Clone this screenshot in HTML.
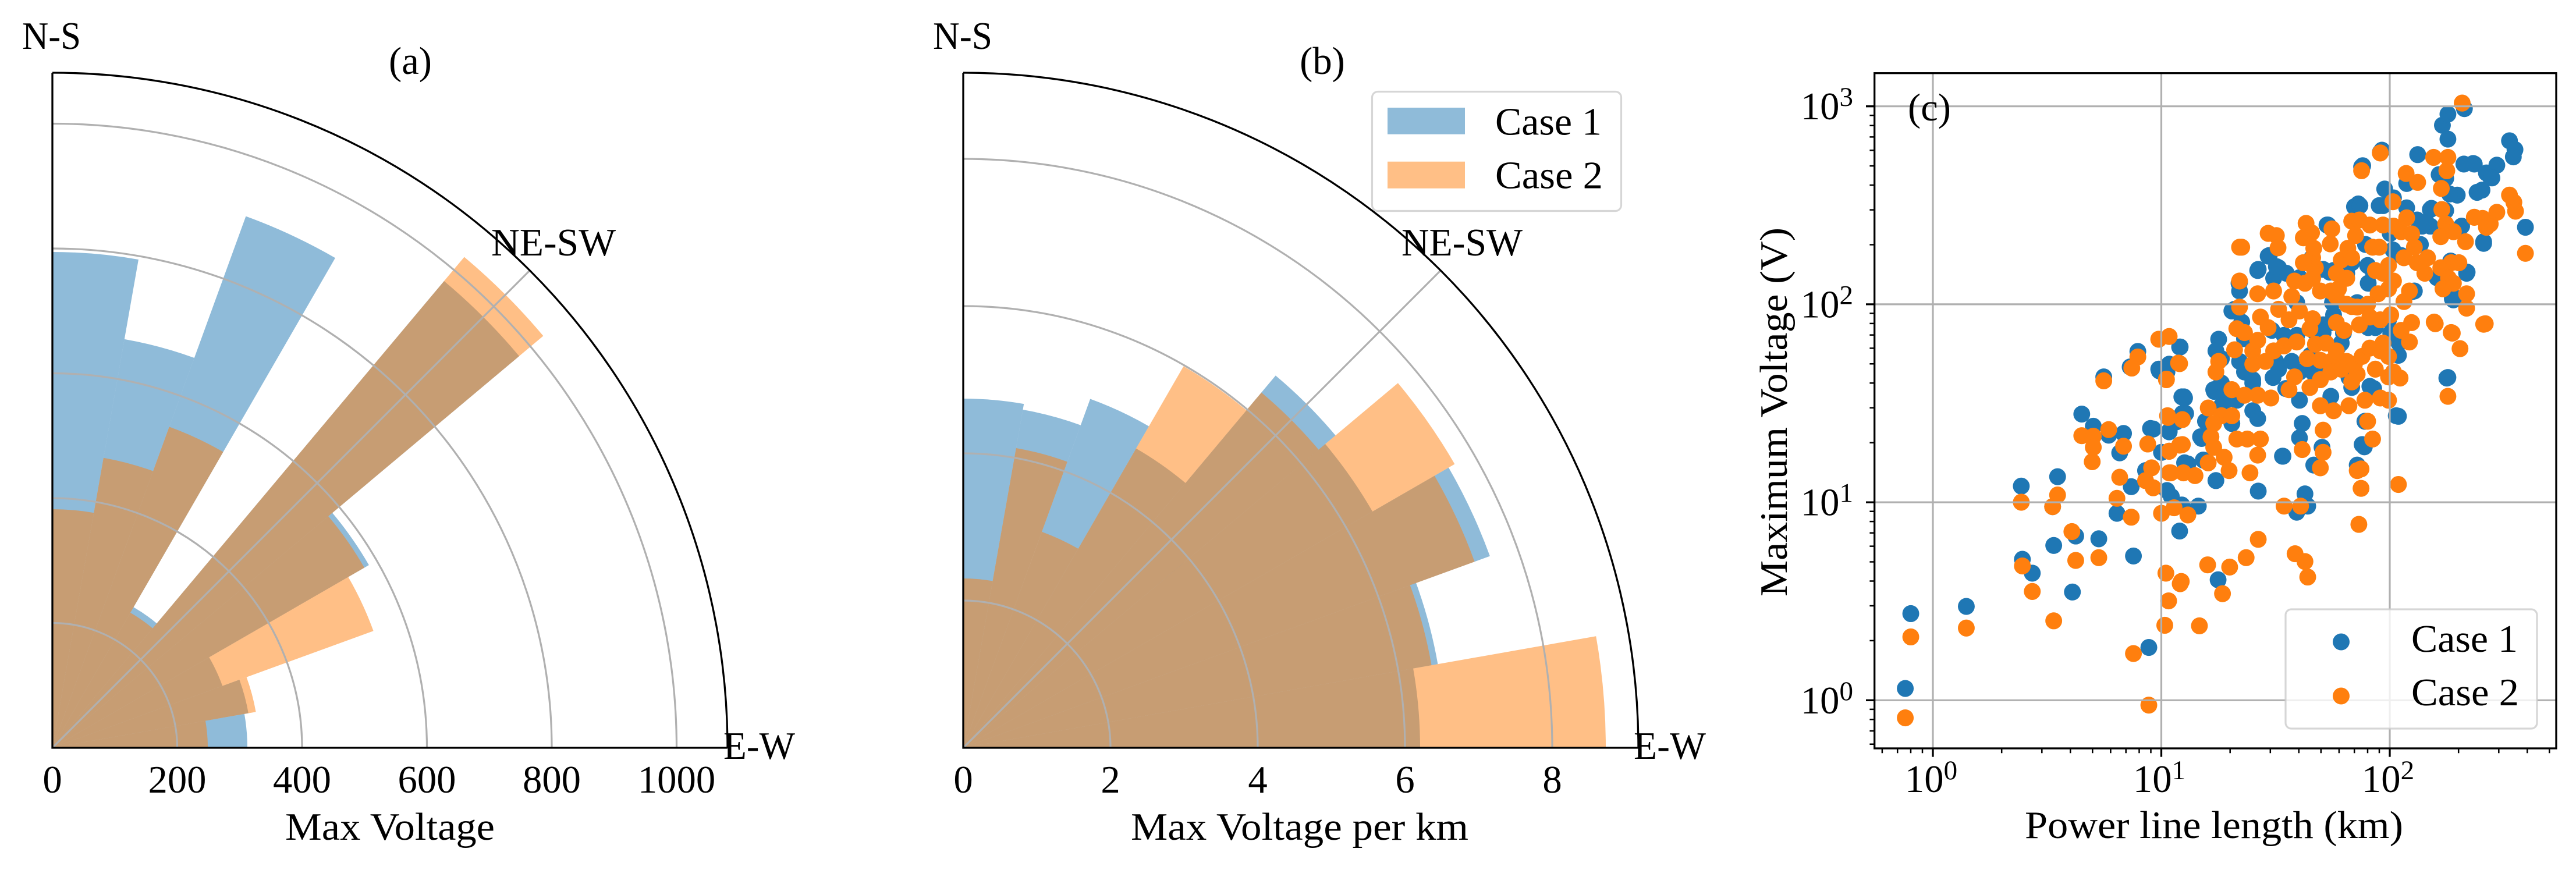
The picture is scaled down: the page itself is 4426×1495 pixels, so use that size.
<!DOCTYPE html>
<html><head><meta charset="utf-8"><style>
html,body{margin:0;padding:0;background:#fff;width:4426px;height:1495px;overflow:hidden;}
svg{display:block;position:absolute;left:0;top:0;}
svg text{font-family:"Liberation Serif","DejaVu Serif",serif !important;font-size:66.7px;fill:#000;}
</style></head><body>
<svg width="4426" height="1495" viewBox="0 0 4426 1495" xmlns="http://www.w3.org/2000/svg" font-family="Liberation Serif, DejaVu Serif, serif" font-size="66.7" overflow="hidden">
<rect width="4426" height="1495" fill="#fff"/>

<!-- ===== Panel (a) ===== -->
<g transform="translate(90,1285)">
 <g fill="#1f77b4" fill-opacity="0.5">
  <path d="M0,0 L147.95,-839.06 A852,852 0 0 0 0,-852 Z"/>
  <path d="M0,0 L243.86,-670 A713,713 0 0 0 123.81,-702.17 Z"/>
  <path d="M0,0 L486,-841.78 A972,972 0 0 0 332.44,-913.38 Z"/>
  <path d="M0,0 L179.34,-213.73 A279,279 0 0 0 139.5,-241.62 Z"/>
  <path d="M0,0 L802.04,-673 A1047,1047 0 0 0 673,-802.04 Z"/>
  <path d="M0,0 L543.87,-314 A628,628 0 0 0 481.07,-403.67 Z"/>
  <path d="M0,0 L292.24,-106.37 A311,311 0 0 0 269.34,-155.5 Z"/>
  <path d="M0,0 L336.81,-59.39 A342,342 0 0 0 321.37,-116.97 Z"/>
  <path d="M0,0 L335,0 A335,335 0 0 0 329.91,-58.17 Z"/>
 </g>
 <g fill="#ff7f0e" fill-opacity="0.5">
  <path d="M0,0 L71.2,-403.77 A410,410 0 0 0 0,-410 Z"/>
  <path d="M0,0 L173.06,-475.48 A506,506 0 0 0 87.87,-498.31 Z"/>
  <path d="M0,0 L293.5,-508.36 A587,587 0 0 0 200.77,-551.6 Z"/>
  <path d="M0,0 L172.27,-205.3 A268,268 0 0 0 134,-232.1 Z"/>
  <path d="M0,0 L843.41,-707.71 A1101,1101 0 0 0 707.71,-843.41 Z"/>
  <path d="M0,0 L536.07,-309.5 A619,619 0 0 0 474.18,-397.89 Z"/>
  <path d="M0,0 L551.6,-200.77 A587,587 0 0 0 508.36,-293.5 Z"/>
  <path d="M0,0 L349.61,-61.65 A355,355 0 0 0 333.59,-121.42 Z"/>
  <path d="M0,0 L267,0 A267,267 0 0 0 262.94,-46.36 Z"/>
 </g>
 <g fill="none" stroke="#b0b0b0" stroke-width="3.2">
  <path d="M214.5,0 A214.5,214.5 0 0 0 0,-214.5"/>
  <path d="M429,0 A429,429 0 0 0 0,-429"/>
  <path d="M643.5,0 A643.5,643.5 0 0 0 0,-643.5"/>
  <path d="M858,0 A858,858 0 0 0 0,-858"/>
  <path d="M1072.5,0 A1072.5,1072.5 0 0 0 0,-1072.5"/>
  <path d="M0,0 L820.2,-820.2"/>
 </g>
 <g fill="none" stroke="#000" stroke-width="3.3">
  <path d="M0,-1160 L0,0 L1160,0"/>
  <path d="M1160,0 A1160,1160 0 0 0 0,-1160"/>
 </g>
</g>
<text x="38" y="84" textLength="101" lengthAdjust="spacingAndGlyphs">N-S</text>
<text x="844" y="439" textLength="214" lengthAdjust="spacingAndGlyphs">NE-SW</text>
<text x="1243" y="1304" textLength="123" lengthAdjust="spacingAndGlyphs">E-W</text>
<text x="705" y="127" text-anchor="middle">(a)</text>
<g text-anchor="middle">
 <text x="90" y="1362">0</text>
 <text x="304.5" y="1362">200</text>
 <text x="519" y="1362">400</text>
 <text x="733.5" y="1362">600</text>
 <text x="948" y="1362">800</text>
 <text x="1162.5" y="1362">1000</text>
</g>
<text x="490" y="1443" textLength="360" lengthAdjust="spacingAndGlyphs">Max Voltage</text>

<!-- ===== Panel (b) ===== -->
<g transform="translate(1655,1285)">
 <g fill="#1f77b4" fill-opacity="0.5">
  <path d="M0,0 L104.19,-590.89 A600,600 0 0 0 0,-600 Z"/>
  <path d="M0,0 L201.79,-554.42 A590,590 0 0 0 102.45,-581.04 Z"/>
  <path d="M0,0 L319,-552.53 A638,638 0 0 0 218.21,-599.52 Z"/>
  <path d="M0,0 L381.82,-455.03 A594,594 0 0 0 297,-514.42 Z"/>
  <path d="M0,0 L639.64,-536.73 A835,835 0 0 0 536.73,-639.64 Z"/>
  <path d="M0,0 L703.22,-406 A812,812 0 0 0 622.02,-521.95 Z"/>
  <path d="M0,0 L904.92,-329.37 A963,963 0 0 0 833.99,-481.5 Z"/>
  <path d="M0,0 L815.42,-143.78 A828,828 0 0 0 778.06,-283.19 Z"/>
  <path d="M0,0 L785,0 A785,785 0 0 0 773.08,-136.32 Z"/>
 </g>
 <g fill="#ff7f0e" fill-opacity="0.5">
  <path d="M0,0 L50.53,-286.58 A291,291 0 0 0 0,-291 Z"/>
  <path d="M0,0 L178.88,-491.46 A523,523 0 0 0 90.82,-515.06 Z"/>
  <path d="M0,0 L197.5,-342.08 A395,395 0 0 0 135.1,-371.18 Z"/>
  <path d="M0,0 L486.59,-579.89 A757,757 0 0 0 378.5,-655.58 Z"/>
  <path d="M0,0 L610.53,-512.3 A797,797 0 0 0 512.3,-610.53 Z"/>
  <path d="M0,0 L844.38,-487.5 A975,975 0 0 0 746.89,-626.72 Z"/>
  <path d="M0,0 L878.61,-319.79 A935,935 0 0 0 809.74,-467.5 Z"/>
  <path d="M0,0 L804.59,-141.87 A817,817 0 0 0 767.73,-279.43 Z"/>
  <path d="M0,0 L1104,0 A1104,1104 0 0 0 1087.23,-191.71 Z"/>
 </g>
 <g fill="none" stroke="#b0b0b0" stroke-width="3.2">
  <path d="M253,0 A253,253 0 0 0 0,-253"/>
  <path d="M506,0 A506,506 0 0 0 0,-506"/>
  <path d="M759,0 A759,759 0 0 0 0,-759"/>
  <path d="M1012,0 A1012,1012 0 0 0 0,-1012"/>
  <path d="M0,0 L820.2,-820.2"/>
 </g>
 <g fill="none" stroke="#000" stroke-width="3.3">
  <path d="M0,-1160 L0,0 L1160,0"/>
  <path d="M1160,0 A1160,1160 0 0 0 0,-1160"/>
 </g>
</g>
<text x="1603" y="84" textLength="102" lengthAdjust="spacingAndGlyphs">N-S</text>
<text x="2408" y="439" textLength="208" lengthAdjust="spacingAndGlyphs">NE-SW</text>
<text x="2807" y="1304" textLength="124" lengthAdjust="spacingAndGlyphs">E-W</text>
<text x="2272" y="127" text-anchor="middle">(b)</text>
<g text-anchor="middle">
 <text x="1655" y="1362">0</text>
 <text x="1908" y="1362">2</text>
 <text x="2161" y="1362">4</text>
 <text x="2414" y="1362">6</text>
 <text x="2667" y="1362">8</text>
</g>
<text x="1943" y="1443" textLength="580" lengthAdjust="spacingAndGlyphs">Max Voltage per km</text>
<!-- legend b -->
<rect x="2357.5" y="157.5" width="428" height="205" rx="10" ry="10" fill="#fff" fill-opacity="0.8" stroke="#cccccc" stroke-opacity="0.8" stroke-width="3.2"/>
<rect x="2384" y="185" width="133" height="45.7" fill="#1f77b4" fill-opacity="0.5"/>
<rect x="2384" y="277.7" width="133" height="46" fill="#ff7f0e" fill-opacity="0.5"/>
<text x="2569" y="231.7" textLength="183" lengthAdjust="spacingAndGlyphs">Case 1</text>
<text x="2569" y="323.3" textLength="185" lengthAdjust="spacingAndGlyphs">Case 2</text>

<!-- ===== Panel (c) ===== -->
<g transform="translate(2949.6,0.9) scale(0.9446,0.9526)">
<g fill="#1f77b4">
<circle cx="353" cy="1106" r="15.3"/><circle cx="343" cy="1241" r="15.3"/><circle cx="454" cy="1093" r="15.3"/><circle cx="554" cy="876" r="15.3"/><circle cx="556" cy="1008" r="15.3"/><circle cx="574" cy="1033" r="15.3"/><circle cx="620" cy="859" r="15.3"/><circle cx="611" cy="913" r="15.3"/><circle cx="613" cy="983" r="15.3"/><circle cx="653" cy="966" r="15.3"/><circle cx="647" cy="1067" r="15.3"/><circle cx="695" cy="971" r="15.3"/><circle cx="758" cy="1002" r="15.3"/><circle cx="786" cy="1167" r="15.3"/><circle cx="664" cy="746" r="15.3"/><circle cx="685" cy="768" r="15.3"/><circle cx="713" cy="784" r="15.3"/><circle cx="740" cy="781" r="15.3"/><circle cx="733" cy="816" r="15.3"/><circle cx="754" cy="877" r="15.3"/><circle cx="728" cy="925" r="15.3"/><circle cx="704" cy="679" r="15.3"/><circle cx="766" cy="633" r="15.3"/><circle cx="752" cy="661" r="15.3"/><circle cx="789" cy="772" r="15.3"/><circle cx="780" cy="848" r="15.3"/><circle cx="842" cy="957" r="15.3"/><circle cx="819" cy="670" r="15.3"/><circle cx="805" cy="668" r="15.3"/><circle cx="823" cy="777" r="15.3"/><circle cx="846" cy="715" r="15.3"/><circle cx="819" cy="884" r="15.3"/>
<circle cx="827" cy="895" r="15.3"/><circle cx="836" cy="760" r="15.3"/><circle cx="843" cy="625" r="15.3"/><circle cx="846" cy="910" r="15.3"/><circle cx="850" cy="715" r="15.3"/><circle cx="853" cy="745" r="15.3"/><circle cx="857" cy="836" r="15.3"/><circle cx="876" cy="912" r="15.3"/><circle cx="882" cy="790" r="15.3"/><circle cx="895" cy="770" r="15.3"/><circle cx="900" cy="765" r="15.3"/><circle cx="905" cy="705" r="15.3"/><circle cx="912" cy="1045" r="15.3"/><circle cx="918" cy="690" r="15.3"/><circle cx="928" cy="720" r="15.3"/><circle cx="985" cy="885" r="15.3"/><circle cx="1030" cy="822" r="15.3"/><circle cx="1055" cy="923" r="15.3"/><circle cx="1075" cy="912" r="15.3"/><circle cx="1070" cy="890" r="15.3"/><circle cx="1168" cy="845" r="15.3"/><circle cx="1240" cy="750" r="15.3"/><circle cx="1330" cy="680" r="15.3"/><circle cx="1178" cy="805" r="15.3"/>
<circle cx="1112" cy="405" r="15.3"/><circle cx="1167" cy="367" r="15.3"/><circle cx="1160" cy="372" r="15.3"/><circle cx="1207" cy="274" r="15.3"/><circle cx="1173" cy="300" r="15.3"/><circle cx="1212" cy="370" r="15.3"/><circle cx="1231" cy="356" r="15.3"/><circle cx="1255" cy="374" r="15.3"/><circle cx="1298" cy="377" r="15.3"/><circle cx="1283" cy="407" r="15.3"/><circle cx="1274" cy="396" r="15.3"/><circle cx="1347" cy="351" r="15.3"/><circle cx="1333" cy="349" r="15.3"/><circle cx="1326" cy="321" r="15.3"/><circle cx="1314" cy="314" r="15.3"/><circle cx="1383" cy="346" r="15.3"/><circle cx="1392" cy="342" r="15.3"/><circle cx="1407" cy="318" r="15.3"/><circle cx="1400" cy="311" r="15.3"/><circle cx="1378" cy="295" r="15.3"/><circle cx="1359" cy="295" r="15.3"/><circle cx="1419" cy="297" r="15.3"/><circle cx="1395" cy="438" r="15.3"/><circle cx="1364" cy="492" r="15.3"/><circle cx="1326" cy="379" r="15.3"/><circle cx="1355" cy="407" r="15.3"/><circle cx="1298" cy="407" r="15.3"/>
<circle cx="1003" cy="461" r="15.3"/><circle cx="984" cy="487" r="15.3"/><circle cx="1022" cy="482" r="15.3"/><circle cx="951" cy="508" r="15.3"/><circle cx="951" cy="524" r="15.3"/><circle cx="1036" cy="492" r="15.3"/><circle cx="1013" cy="501" r="15.3"/><circle cx="1103" cy="485" r="15.3"/><circle cx="1122" cy="487" r="15.3"/><circle cx="1146" cy="492" r="15.3"/><circle cx="1155" cy="473" r="15.3"/><circle cx="1184" cy="478" r="15.3"/><circle cx="1193" cy="487" r="15.3"/><circle cx="1269" cy="524" r="15.3"/><circle cx="1338" cy="538" r="15.3"/><circle cx="1340" cy="534" r="15.3"/><circle cx="942" cy="557" r="15.3"/><circle cx="937" cy="560" r="15.3"/><circle cx="1055" cy="604" r="15.3"/><circle cx="1032" cy="604" r="15.3"/><circle cx="1017" cy="651" r="15.3"/><circle cx="1022" cy="665" r="15.3"/><circle cx="960" cy="670" r="15.3"/><circle cx="951" cy="651" r="15.3"/><circle cx="975" cy="684" r="15.3"/><circle cx="1103" cy="585" r="15.3"/><circle cx="1122" cy="567" r="15.3"/><circle cx="1117" cy="581" r="15.3"/><circle cx="1089" cy="599" r="15.3"/><circle cx="1103" cy="599" r="15.3"/><circle cx="1136" cy="618" r="15.3"/><circle cx="1198" cy="590" r="15.3"/><circle cx="1222" cy="576" r="15.3"/><circle cx="1241" cy="618" r="15.3"/><circle cx="1098" cy="670" r="15.3"/><circle cx="1084" cy="670" r="15.3"/><circle cx="1060" cy="670" r="15.3"/><circle cx="1046" cy="651" r="15.3"/><circle cx="913" cy="611" r="15.3"/><circle cx="908" cy="632" r="15.3"/><circle cx="918" cy="646" r="15.3"/><circle cx="904" cy="702" r="15.3"/><circle cx="923" cy="712" r="15.3"/><circle cx="946" cy="721" r="15.3"/><circle cx="975" cy="740" r="15.3"/><circle cx="984" cy="754" r="15.3"/><circle cx="937" cy="763" r="15.3"/><circle cx="889" cy="759" r="15.3"/><circle cx="880" cy="787" r="15.3"/><circle cx="918" cy="731" r="15.3"/><circle cx="851" cy="717" r="15.3"/><circle cx="847" cy="745" r="15.3"/><circle cx="823" cy="778" r="15.3"/><circle cx="794" cy="773" r="15.3"/><circle cx="804" cy="665" r="15.3"/><circle cx="823" cy="656" r="15.3"/><circle cx="842" cy="625" r="15.3"/><circle cx="1060" cy="721" r="15.3"/><circle cx="1065" cy="763" r="15.3"/><circle cx="1060" cy="789" r="15.3"/><circle cx="1101" cy="806" r="15.3"/><circle cx="1086" cy="838" r="15.3"/><circle cx="1117" cy="714" r="15.3"/><circle cx="1188" cy="696" r="15.3"/><circle cx="1179" cy="759" r="15.3"/><circle cx="1174" cy="801" r="15.3"/><circle cx="1165" cy="838" r="15.3"/><circle cx="1236" cy="749" r="15.3"/><circle cx="1029" cy="822" r="15.3"/><circle cx="1155" cy="698" r="15.3"/><circle cx="1328" cy="681" r="15.3"/><circle cx="885" cy="829" r="15.3"/><circle cx="851" cy="834" r="15.3"/><circle cx="908" cy="866" r="15.3"/><circle cx="809" cy="815" r="15.3"/>
<circle cx="1320" cy="225" r="15.3"/><circle cx="1330" cy="205" r="15.3"/><circle cx="1330" cy="250" r="15.3"/><circle cx="1360" cy="195" r="15.3"/><circle cx="1376" cy="294" r="15.3"/><circle cx="1442" cy="253" r="15.3"/><circle cx="1452" cy="269" r="15.3"/><circle cx="1449" cy="282" r="15.3"/><circle cx="1471" cy="409" r="15.3"/><circle cx="1275" cy="278" r="15.3"/><circle cx="1210" cy="270" r="15.3"/><circle cx="1175" cy="298" r="15.3"/><circle cx="1205" cy="370" r="15.3"/><circle cx="1215" cy="340" r="15.3"/><circle cx="1255" cy="330" r="15.3"/><circle cx="1170" cy="370" r="15.3"/><circle cx="1226" cy="600" r="15.3"/><circle cx="1240" cy="640" r="15.3"/><circle cx="1185" cy="590" r="15.3"/><circle cx="1140" cy="600" r="15.3"/>
<circle cx="950" cy="510" r="15.3"/><circle cx="955" cy="580" r="15.3"/><circle cx="960" cy="610" r="15.3"/><circle cx="975" cy="690" r="15.3"/><circle cx="985" cy="485" r="15.3"/><circle cx="1005" cy="460" r="15.3"/><circle cx="1010" cy="595" r="15.3"/><circle cx="1012" cy="680" r="15.3"/><circle cx="1018" cy="480" r="15.3"/><circle cx="1035" cy="700" r="15.3"/><circle cx="1045" cy="610" r="15.3"/><circle cx="1055" cy="545" r="15.3"/><circle cx="1060" cy="500" r="15.3"/><circle cx="1080" cy="640" r="15.3"/><circle cx="1082" cy="465" r="15.3"/><circle cx="1090" cy="682" r="15.3"/><circle cx="1110" cy="405" r="15.3"/><circle cx="1115" cy="490" r="15.3"/><circle cx="1120" cy="545" r="15.3"/><circle cx="1130" cy="625" r="15.3"/><circle cx="1150" cy="680" r="15.3"/><circle cx="1165" cy="545" r="15.3"/><circle cx="1180" cy="440" r="15.3"/><circle cx="1185" cy="510" r="15.3"/><circle cx="1195" cy="700" r="15.3"/><circle cx="1225" cy="420" r="15.3"/><circle cx="1230" cy="450" r="15.3"/><circle cx="1245" cy="460" r="15.3"/><circle cx="1265" cy="525" r="15.3"/><circle cx="1280" cy="440" r="15.3"/><circle cx="1290" cy="400" r="15.3"/><circle cx="1300" cy="375" r="15.3"/><circle cx="1310" cy="500" r="15.3"/><circle cx="1335" cy="470" r="15.3"/><circle cx="1340" cy="540" r="15.3"/><circle cx="1365" cy="490" r="15.3"/><circle cx="1395" cy="435" r="15.3"/><circle cx="1410" cy="320" r="15.3"/>
</g>
<g fill="#ff7f0e">
<circle cx="353" cy="1148" r="15.3"/><circle cx="343" cy="1294" r="15.3"/><circle cx="454" cy="1132" r="15.3"/><circle cx="554" cy="905" r="15.3"/><circle cx="556" cy="1020" r="15.3"/><circle cx="574" cy="1066" r="15.3"/><circle cx="620" cy="892" r="15.3"/><circle cx="611" cy="913" r="15.3"/><circle cx="613" cy="1119" r="15.3"/><circle cx="646" cy="958" r="15.3"/><circle cx="653" cy="1010" r="15.3"/><circle cx="695" cy="1005" r="15.3"/><circle cx="758" cy="1178" r="15.3"/><circle cx="786" cy="1271" r="15.3"/><circle cx="664" cy="785" r="15.3"/><circle cx="685" cy="786" r="15.3"/><circle cx="685" cy="806" r="15.3"/><circle cx="683" cy="832" r="15.3"/><circle cx="713" cy="774" r="15.3"/><circle cx="740" cy="804" r="15.3"/><circle cx="733" cy="860" r="15.3"/><circle cx="728" cy="898" r="15.3"/><circle cx="754" cy="932" r="15.3"/><circle cx="704" cy="686" r="15.3"/><circle cx="755" cy="663" r="15.3"/><circle cx="766" cy="643" r="15.3"/><circle cx="784" cy="800" r="15.3"/><circle cx="794" cy="879" r="15.3"/><circle cx="791" cy="843" r="15.3"/><circle cx="780" cy="866" r="15.3"/><circle cx="809" cy="925" r="15.3"/><circle cx="817" cy="1033" r="15.3"/><circle cx="843" cy="1052" r="15.3"/><circle cx="822" cy="1083" r="15.3"/><circle cx="815" cy="1127" r="15.3"/><circle cx="818" cy="683" r="15.3"/><circle cx="840" cy="654" r="15.3"/><circle cx="821" cy="752" r="15.3"/><circle cx="823" cy="813" r="15.3"/><circle cx="842" cy="802" r="15.3"/><circle cx="826" cy="852" r="15.3"/><circle cx="832" cy="915" r="15.3"/>
<circle cx="845" cy="1048" r="15.3"/><circle cx="857" cy="928" r="15.3"/><circle cx="878" cy="1128" r="15.3"/><circle cx="893" cy="1018" r="15.3"/><circle cx="920" cy="1070" r="15.3"/><circle cx="933" cy="1022" r="15.3"/><circle cx="963" cy="1005" r="15.3"/><circle cx="985" cy="972" r="15.3"/><circle cx="1032" cy="912" r="15.3"/><circle cx="1062" cy="912" r="15.3"/><circle cx="1052" cy="998" r="15.3"/><circle cx="1070" cy="1012" r="15.3"/><circle cx="1075" cy="1040" r="15.3"/><circle cx="1168" cy="945" r="15.3"/><circle cx="1172" cy="880" r="15.3"/><circle cx="1172" cy="845" r="15.3"/><circle cx="1240" cy="873" r="15.3"/><circle cx="1330" cy="714" r="15.3"/><circle cx="1305" cy="580" r="15.3"/><circle cx="1338" cy="600" r="15.3"/><circle cx="1352" cy="628" r="15.3"/><circle cx="1398" cy="583" r="15.3"/><circle cx="1471" cy="456" r="15.3"/><circle cx="1356" cy="185" r="15.3"/><circle cx="955" cy="445" r="15.3"/>
<circle cx="1207" cy="275" r="15.3"/><circle cx="1173" cy="307" r="15.3"/><circle cx="1304" cy="283" r="15.3"/><circle cx="1330" cy="283" r="15.3"/><circle cx="1328" cy="307" r="15.3"/><circle cx="1254" cy="312" r="15.3"/><circle cx="1275" cy="328" r="15.3"/><circle cx="1318" cy="339" r="15.3"/><circle cx="1230" cy="363" r="15.3"/><circle cx="1442" cy="351" r="15.3"/><circle cx="1450" cy="364" r="15.3"/><circle cx="1453" cy="380" r="15.3"/><circle cx="1319" cy="377" r="15.3"/><circle cx="1255" cy="392" r="15.3"/><circle cx="1419" cy="382" r="15.3"/><circle cx="1393" cy="393" r="15.3"/><circle cx="1400" cy="409" r="15.3"/><circle cx="1407" cy="403" r="15.3"/><circle cx="1378" cy="391" r="15.3"/><circle cx="1362" cy="435" r="15.3"/><circle cx="1326" cy="403" r="15.3"/><circle cx="1340" cy="417" r="15.3"/><circle cx="1317" cy="426" r="15.3"/><circle cx="1155" cy="398" r="15.3"/><circle cx="1169" cy="396" r="15.3"/><circle cx="1188" cy="405" r="15.3"/><circle cx="1212" cy="405" r="15.3"/><circle cx="1231" cy="407" r="15.3"/><circle cx="1072" cy="402" r="15.3"/><circle cx="1082" cy="419" r="15.3"/><circle cx="1067" cy="428" r="15.3"/><circle cx="1119" cy="412" r="15.3"/><circle cx="1116" cy="439" r="15.3"/><circle cx="1003" cy="420" r="15.3"/><circle cx="1018" cy="424" r="15.3"/><circle cx="1021" cy="446" r="15.3"/><circle cx="951" cy="445" r="15.3"/><circle cx="1162" cy="424" r="15.3"/><circle cx="1193" cy="445" r="15.3"/><circle cx="1205" cy="445" r="15.3"/><circle cx="1148" cy="447" r="15.3"/><circle cx="1136" cy="468" r="15.3"/><circle cx="1155" cy="464" r="15.3"/><circle cx="1086" cy="447" r="15.3"/><circle cx="1084" cy="464" r="15.3"/><circle cx="1079" cy="475" r="15.3"/><circle cx="1089" cy="482" r="15.3"/><circle cx="1067" cy="473" r="15.3"/><circle cx="1051" cy="506" r="15.3"/><circle cx="1070" cy="510" r="15.3"/><circle cx="1084" cy="501" r="15.3"/><circle cx="1098" cy="524" r="15.3"/><circle cx="1046" cy="534" r="15.3"/><circle cx="1013" cy="524" r="15.3"/><circle cx="984" cy="529" r="15.3"/><circle cx="951" cy="506" r="15.3"/><circle cx="951" cy="553" r="15.3"/><circle cx="1245" cy="417" r="15.3"/><circle cx="1264" cy="421" r="15.3"/><circle cx="1269" cy="445" r="15.3"/><circle cx="1250" cy="464" r="15.3"/><circle cx="1274" cy="473" r="15.3"/><circle cx="1293" cy="464" r="15.3"/><circle cx="1288" cy="492" r="15.3"/><circle cx="1317" cy="482" r="15.3"/><circle cx="1336" cy="473" r="15.3"/><circle cx="1350" cy="473" r="15.3"/><circle cx="1331" cy="501" r="15.3"/><circle cx="1321" cy="520" r="15.3"/><circle cx="1340" cy="510" r="15.3"/><circle cx="1364" cy="529" r="15.3"/><circle cx="1364" cy="555" r="15.3"/><circle cx="1307" cy="583" r="15.3"/><circle cx="1336" cy="599" r="15.3"/><circle cx="1395" cy="584" r="15.3"/><circle cx="1198" cy="487" r="15.3"/><circle cx="1212" cy="492" r="15.3"/><circle cx="1222" cy="478" r="15.3"/><circle cx="1231" cy="506" r="15.3"/><circle cx="1260" cy="524" r="15.3"/><circle cx="1250" cy="543" r="15.3"/><circle cx="1222" cy="520" r="15.3"/><circle cx="1203" cy="529" r="15.3"/><circle cx="1184" cy="548" r="15.3"/><circle cx="1165" cy="553" r="15.3"/><circle cx="1146" cy="548" r="15.3"/><circle cx="1127" cy="534" r="15.3"/><circle cx="1146" cy="501" r="15.3"/><circle cx="1131" cy="520" r="15.3"/><circle cx="1117" cy="524" r="15.3"/><circle cx="1127" cy="492" r="15.3"/>
<circle cx="1022" cy="557" r="15.3"/><circle cx="1041" cy="576" r="15.3"/><circle cx="1060" cy="560" r="15.3"/><circle cx="1084" cy="574" r="15.3"/><circle cx="1079" cy="592" r="15.3"/><circle cx="989" cy="571" r="15.3"/><circle cx="1003" cy="590" r="15.3"/><circle cx="946" cy="592" r="15.3"/><circle cx="960" cy="599" r="15.3"/><circle cx="942" cy="630" r="15.3"/><circle cx="975" cy="632" r="15.3"/><circle cx="984" cy="613" r="15.3"/><circle cx="998" cy="651" r="15.3"/><circle cx="975" cy="656" r="15.3"/><circle cx="1013" cy="632" r="15.3"/><circle cx="1032" cy="623" r="15.3"/><circle cx="1055" cy="616" r="15.3"/><circle cx="1089" cy="620" r="15.3"/><circle cx="1108" cy="618" r="15.3"/><circle cx="1127" cy="632" r="15.3"/><circle cx="1098" cy="649" r="15.3"/><circle cx="1117" cy="651" r="15.3"/><circle cx="1146" cy="651" r="15.3"/><circle cx="1160" cy="656" r="15.3"/><circle cx="1174" cy="642" r="15.3"/><circle cx="1188" cy="627" r="15.3"/><circle cx="1207" cy="632" r="15.3"/><circle cx="1222" cy="642" r="15.3"/><circle cx="1212" cy="618" r="15.3"/><circle cx="1226" cy="567" r="15.3"/><circle cx="1207" cy="576" r="15.3"/><circle cx="1188" cy="571" r="15.3"/><circle cx="1169" cy="585" r="15.3"/><circle cx="1141" cy="595" r="15.3"/><circle cx="1127" cy="581" r="15.3"/><circle cx="1155" cy="552" r="15.3"/><circle cx="1245" cy="595" r="15.3"/><circle cx="1260" cy="616" r="15.3"/><circle cx="1264" cy="581" r="15.3"/><circle cx="1198" cy="665" r="15.3"/><circle cx="1222" cy="679" r="15.3"/><circle cx="1243" cy="681" r="15.3"/><circle cx="1231" cy="670" r="15.3"/><circle cx="1155" cy="688" r="15.3"/><circle cx="1165" cy="674" r="15.3"/><circle cx="1136" cy="665" r="15.3"/><circle cx="1117" cy="670" r="15.3"/><circle cx="1098" cy="684" r="15.3"/><circle cx="1079" cy="698" r="15.3"/><circle cx="1051" cy="679" r="15.3"/><circle cx="1041" cy="702" r="15.3"/><circle cx="1008" cy="717" r="15.3"/><circle cx="984" cy="712" r="15.3"/><circle cx="960" cy="712" r="15.3"/><circle cx="937" cy="702" r="15.3"/><circle cx="894" cy="735" r="15.3"/><circle cx="918" cy="749" r="15.3"/><circle cx="937" cy="749" r="15.3"/><circle cx="908" cy="670" r="15.3"/><circle cx="913" cy="651" r="15.3"/><circle cx="1074" cy="646" r="15.3"/><circle cx="1098" cy="731" r="15.3"/><circle cx="1122" cy="740" r="15.3"/><circle cx="1150" cy="731" r="15.3"/><circle cx="1179" cy="721" r="15.3"/><circle cx="1207" cy="717" r="15.3"/><circle cx="1222" cy="721" r="15.3"/><circle cx="1184" cy="759" r="15.3"/><circle cx="1193" cy="791" r="15.3"/><circle cx="1103" cy="775" r="15.3"/><circle cx="1065" cy="810" r="15.3"/><circle cx="1103" cy="815" r="15.3"/><circle cx="1098" cy="843" r="15.3"/><circle cx="1165" cy="848" r="15.3"/><circle cx="904" cy="763" r="15.3"/><circle cx="899" cy="787" r="15.3"/><circle cx="904" cy="806" r="15.3"/><circle cx="894" cy="834" r="15.3"/><circle cx="923" cy="824" r="15.3"/><circle cx="946" cy="791" r="15.3"/><circle cx="965" cy="791" r="15.3"/><circle cx="989" cy="791" r="15.3"/><circle cx="970" cy="852" r="15.3"/><circle cx="984" cy="820" r="15.3"/><circle cx="932" cy="848" r="15.3"/><circle cx="823" cy="606" r="15.3"/><circle cx="804" cy="611" r="15.3"/><circle cx="842" cy="655" r="15.3"/><circle cx="818" cy="684" r="15.3"/><circle cx="820" cy="749" r="15.3"/><circle cx="847" cy="756" r="15.3"/><circle cx="847" cy="801" r="15.3"/><circle cx="823" cy="813" r="15.3"/><circle cx="823" cy="852" r="15.3"/><circle cx="849" cy="852" r="15.3"/><circle cx="870" cy="857" r="15.3"/>
</g>
</g>
<!-- grid c -->
<g stroke="#b0b0b0" stroke-width="3.2" fill="none">
 <path d="M3321,125.7 V1286 M3713.5,125.7 V1286 M4106,125.7 V1286"/>
 <path d="M3220.7,182.7 H4392 M3220.7,522.9 H4392 M3220.7,863.1 H4392 M3220.7,1203.3 H4392"/>
</g>
<!-- ticks c -->
<g stroke="#000" stroke-width="3.3">
 <path d="M3206,182.7 H3220.7 M3206,522.9 H3220.7 M3206,863.1 H3220.7 M3206,1203.3 H3220.7"/>
 <path d="M3321,1286 V1300.6 M3713.5,1286 V1300.6 M4106,1286 V1300.6"/>
</g>
<g stroke="#000" stroke-width="2.5">
 <path d="M3212.4,1278.8 H3220.7 M3212.4,1256 H3220.7 M3212.4,1236.3 H3220.7 M3212.4,1218.9 H3220.7 M3212.4,1100.9 H3220.7 M3212.4,1041 H3220.7 M3212.4,998.5 H3220.7 M3212.4,965.5 H3220.7 M3212.4,938.6 H3220.7 M3212.4,915.8 H3220.7 M3212.4,896.1 H3220.7 M3212.4,878.7 H3220.7 M3212.4,760.7 H3220.7 M3212.4,700.8 H3220.7 M3212.4,658.3 H3220.7 M3212.4,625.3 H3220.7 M3212.4,598.4 H3220.7 M3212.4,575.6 H3220.7 M3212.4,555.9 H3220.7 M3212.4,538.5 H3220.7 M3212.4,420.5 H3220.7 M3212.4,360.6 H3220.7 M3212.4,318.1 H3220.7 M3212.4,285.1 H3220.7 M3212.4,258.2 H3220.7 M3212.4,235.4 H3220.7 M3212.4,215.7 H3220.7 M3212.4,198.3 H3220.7"/>
 <path d="M3233.9,1286 V1294.3 M3260.2,1286 V1294.3 M3283,1286 V1294.3 M3303,1286 V1294.3 M3439.2,1286 V1294.3 M3508.3,1286 V1294.3 M3557.3,1286 V1294.3 M3595.3,1286 V1294.3 M3626.4,1286 V1294.3 M3652.7,1286 V1294.3 M3675.5,1286 V1294.3 M3695.5,1286 V1294.3 M3831.7,1286 V1294.3 M3900.8,1286 V1294.3 M3949.8,1286 V1294.3 M3987.8,1286 V1294.3 M4018.9,1286 V1294.3 M4045.2,1286 V1294.3 M4068,1286 V1294.3 M4088,1286 V1294.3 M4224.2,1286 V1294.3 M4293.3,1286 V1294.3 M4342.3,1286 V1294.3 M4380.3,1286 V1294.3"/>
</g>
<rect x="3220.7" y="125.7" width="1171.3" height="1160.3" fill="none" stroke="#000" stroke-width="3.3"/>
<!-- tick labels c -->
<g text-anchor="end">
 <text x="3184" y="205.2">10<tspan dy="-23" font-size="47">3</tspan></text>
 <text x="3184" y="545.4">10<tspan dy="-23" font-size="47">2</tspan></text>
 <text x="3184" y="885.6">10<tspan dy="-23" font-size="47">1</tspan></text>
 <text x="3184" y="1225.8">10<tspan dy="-23" font-size="47">0</tspan></text>
</g>
<g text-anchor="middle">
 <text x="3318" y="1361">10<tspan dy="-22" font-size="47">0</tspan></text>
 <text x="3710" y="1361">10<tspan dy="-22" font-size="47">1</tspan></text>
 <text x="4103" y="1361">10<tspan dy="-22" font-size="47">2</tspan></text>
</g>
<text x="3278" y="207">(c)</text>
<text x="3479" y="1440" textLength="650" lengthAdjust="spacingAndGlyphs">Power line length (km)</text>
<text transform="translate(3070,708) rotate(-90)" x="0" y="0" text-anchor="middle" textLength="634" lengthAdjust="spacingAndGlyphs">Maximum Voltage (V)</text>
<!-- legend c -->
<rect x="3927" y="1047" width="432" height="205" rx="10" ry="10" fill="#fff" fill-opacity="0.8" stroke="#cccccc" stroke-opacity="0.8" stroke-width="3.2"/>
<circle cx="4022.5" cy="1103" r="14.5" fill="#1f77b4"/>
<circle cx="4022.5" cy="1196" r="14.5" fill="#ff7f0e"/>
<text x="4143" y="1120" textLength="183" lengthAdjust="spacingAndGlyphs">Case 1</text>
<text x="4143" y="1212" textLength="185" lengthAdjust="spacingAndGlyphs">Case 2</text>
</svg>
</body></html>
